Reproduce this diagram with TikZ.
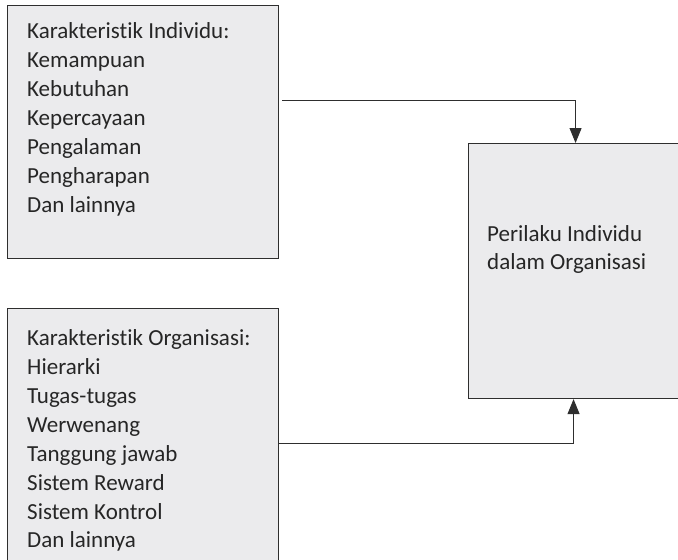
\documentclass[tikz,border=0pt]{standalone}
\usepackage{fontspec}
\setmainfont{Carlito}[Ligatures=NoCommon]
\usetikzlibrary{arrows.meta}

\definecolor{isian}{HTML}{EBEBED}
\definecolor{garis}{HTML}{2E2E2E}

\tikzset{
    kotak/.style={draw=garis, fill=isian, line width=1.1pt, rectangle, inner sep=0pt},
    teks/.style={align=left, inner sep=0pt, anchor=north west, text=black!85,
        font=\fontsize{23}{28.9}\selectfont},
    panah/.style={draw=garis, line width=1pt, -{Triangle[length=15pt,width=12pt]}}
}

\begin{document}
\begin{tikzpicture}[x=1pt,y=-1pt]
        \useasboundingbox (0,0) rectangle (678,560);
        \clip (0,0) rectangle (678,560);

        \node[kotak, anchor=north west, minimum width=271pt, minimum height=253pt] (indiv) at (7,5) {};
        \node[teks] (indivteks) at (27,22.5) {Karakteristik Individu:\\Kemampuan\\Kebutuhan\\Kepercayaan\\Pengalaman\\Pengharapan\\Dan lainnya};

        \node[kotak, anchor=north west, minimum width=271pt, minimum height=270pt] (organ) at (7,308) {};
        \node[teks] (organteks) at (27,329.5) {Karakteristik Organisasi:\\Hierarki\\Tugas-tugas\\Werwenang\\Tanggung jawab\\Sistem Reward\\Sistem Kontrol\\Dan lainnya};

        \node[kotak, anchor=north west, minimum width=210pt, minimum height=255pt] (perilaku) at (468,143) {};
        \node[teks, font=\fontsize{23}{28.2}\selectfont] (perilakuteks) at (487,225.5) {Perilaku Individu\\dalam Organisasi};

        \draw[panah] ([xshift=3pt,yshift=31.5pt]indiv.east) -| ([xshift=2pt]perilaku.north);
        \draw[panah] (organ.east) -| (perilaku.south);
    \end{tikzpicture}
\end{document}
